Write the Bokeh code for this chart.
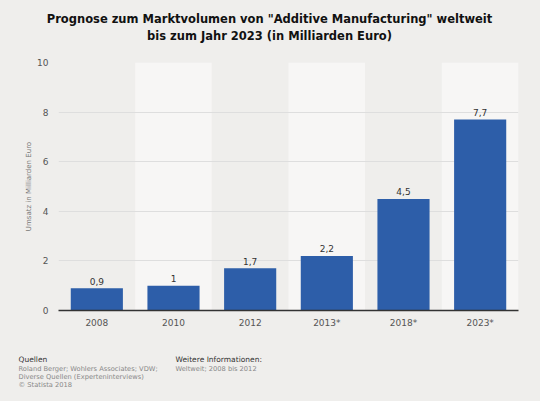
from bokeh.plotting import figure
from bokeh.models import ColumnDataSource, Label, Range1d, FixedTicker, LabelSet
from bokeh.layouts import column
from bokeh.core.properties import value
from bokeh.embed import file_html
from bokeh.resources import INLINE

categories = ["2008", "2010", "2012", "2013*", "2018*", "2023*"]
values = [0.9, 1.0, 1.7, 2.2, 4.5, 7.7]
value_labels = ["0,9", "1", "1,7", "2,2", "4,5", "7,7"]
y_ticks = [0, 2, 4, 6, 8, 10]

title_lines = ['Prognose zum Marktvolumen von "Additive Manufacturing" weltweit',
               'bis zum Jahr 2023 (in Milliarden Euro)']
y_label = "Umsatz in Milliarden Euro"
source_head = "Quellen"
source_lines = ["Roland Berger; Wohlers Associates; VDW;",
                "Diverse Quellen (Experteninterviews)",
                "© Statista 2018"]
info_head = "Weitere Informationen:"
info_lines = ["Weltweit; 2008 bis 2012"]

BG = "#efeeec"
BAND = "#f7f6f5"
BAR = "#2d5ea9"
FONT = "DejaVu Sans"
W = 540
H = 401


def text_fig(h):
    f = figure(width=W, height=h, x_range=Range1d(0, W), y_range=Range1d(h, 0),
               x_axis_type=None, y_axis_type=None, frame_align=False,
               output_backend="svg", toolbar_location=None,
               min_border=0, min_border_left=0, min_border_right=0,
               min_border_top=0, min_border_bottom=0)
    f.grid.visible = False
    f.outline_line_color = None
    f.background_fill_color = BG
    f.border_fill_color = BG
    return f


def add_text(f, text, x, y, size, color, style="normal", align="left"):
    f.add_layout(Label(x=x, y=y, text=text, text_font=FONT, text_font_size=size,
                       text_color=color, text_font_style=style, text_align=align,
                       text_baseline="middle"))


# Title
TH = 54
ft = text_fig(TH)
add_text(ft, title_lines[0], 269, 18, "11.5px", "#111111", "bold", "center")
add_text(ft, title_lines[1], 269, 35.5, "11.5px", "#111111", "bold", "center")

# Main chart
band_colors = [BG if i % 2 == 0 else BAND for i in range(len(categories))]
band_tops = [y_ticks[-1]] * len(categories)
src = ColumnDataSource(dict(cat=categories, val=values, lab=value_labels,
                            band=band_colors, btop=band_tops))

MH = 290
p = figure(x_range=categories, y_range=Range1d(0, 10), width=W, height=MH,
           output_backend="svg", toolbar_location=None, frame_align=False,
           min_border_left=58, min_border_right=22, min_border_top=8, min_border_bottom=34)
p.background_fill_color = BG
p.border_fill_color = BG
p.outline_line_color = None

p.vbar(x="cat", top="btop", bottom=0, width=1.0, color="band", source=src,
       line_color=None, level="image")
p.vbar(x="cat", top="val", width=0.68, color=BAR, line_color=None, source=src)

labels = LabelSet(x="cat", y="val", text="lab", source=src, text_align="center",
                  text_baseline="bottom", y_offset=3.5, text_font=value(FONT),
                  text_font_size=value("9px"), text_color="#333333")
p.add_layout(labels)

p.xgrid.grid_line_color = None
p.ygrid.grid_line_color = "#dedede"
p.ygrid.grid_line_width = 1
p.ygrid.level = "underlay"
p.ygrid.ticker = FixedTicker(ticks=y_ticks)

p.yaxis.ticker = FixedTicker(ticks=y_ticks)
p.yaxis.axis_line_color = None
p.yaxis.major_tick_line_color = None
p.yaxis.minor_tick_line_color = None
p.yaxis.major_tick_out = 0
p.yaxis.major_tick_in = 0
p.yaxis.major_label_text_font = FONT
p.yaxis.major_label_text_font_size = "9px"
p.yaxis.major_label_text_color = "#555555"
p.yaxis.major_label_standoff = 10
p.yaxis.axis_label = y_label
p.yaxis.axis_label_text_font = FONT
p.yaxis.axis_label_text_font_size = "7px"
p.yaxis.axis_label_text_font_style = "normal"
p.yaxis.axis_label_text_color = "#777777"
p.yaxis.axis_label_standoff = 1

p.xaxis.axis_line_color = "#333333"
p.xaxis.axis_line_width = 1.5
p.xaxis.major_tick_line_color = None
p.xaxis.minor_tick_line_color = None
p.xaxis.major_tick_out = 0
p.xaxis.major_tick_in = 0
p.xaxis.major_label_text_font = FONT
p.xaxis.major_label_text_font_size = "9px"
p.xaxis.major_label_text_color = "#555555"
p.xaxis.major_label_standoff = 7

# Footer
FH = H - TH - MH
ff = text_fig(FH)
add_text(ff, source_head, 18, 15, "7.5px", "#333333")
for i, line in enumerate(source_lines):
    add_text(ff, line, 18, 24.3 + 7.9 * i, "6.7px", "#888888")
add_text(ff, info_head, 175, 15, "7.5px", "#333333")
for i, line in enumerate(info_lines):
    add_text(ff, line, 175, 24.3 + 7.9 * i, "6.7px", "#888888")

layout = column(ft, p, ff, spacing=0, styles={"background-color": BG})
open("out.html", "w").write(file_html(layout, INLINE))
